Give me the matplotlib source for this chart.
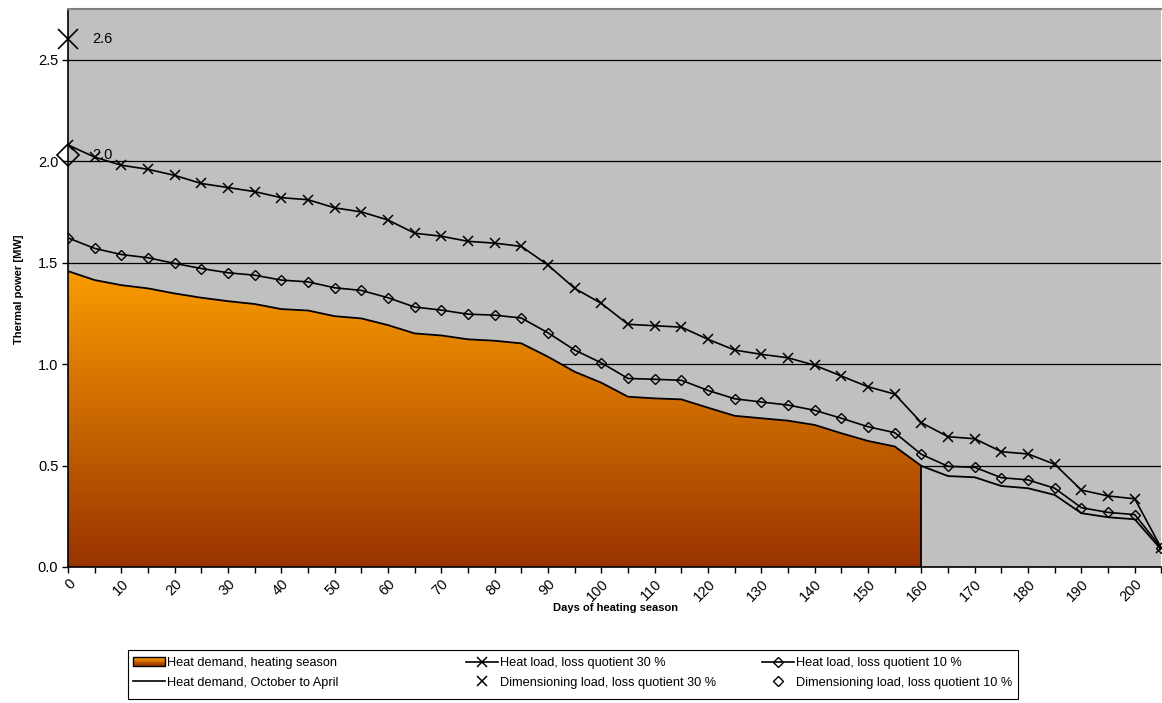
import numpy as np
import matplotlib
matplotlib.use('Agg')
import matplotlib.pyplot as plt
from matplotlib.colors import LinearSegmentedColormap
from matplotlib.patches import Rectangle, Patch
from matplotlib.lines import Line2D
from matplotlib.legend_handler import HandlerBase
from matplotlib.ticker import MultipleLocator, FormatStrFormatter

plt.rcParams['font.family'] = ['Liberation Sans', 'DejaVu Sans']
narrow = ['Liberation Sans Narrow', 'Liberation Sans']

''' Data '''
days = list(range(0, 206, 5))
heat_demand = [1.458, 1.414, 1.389, 1.373, 1.348, 1.327, 1.310, 1.296, 1.271, 1.264,
               1.236, 1.225, 1.192, 1.151, 1.141, 1.122, 1.115, 1.102, 1.036, 0.962,
               0.908, 0.839, 0.831, 0.826, 0.785, 0.745, 0.733, 0.721, 0.700, 0.659,
               0.621, 0.594, 0.498, 0.448, 0.442, 0.399, 0.388, 0.355, 0.265, 0.245,
               0.235, 0.085]
load_30 = [2.08, 2.02, 1.98, 1.96, 1.93, 1.89, 1.87, 1.85, 1.82, 1.81,
           1.77, 1.75, 1.71, 1.645, 1.63, 1.605, 1.596, 1.58, 1.488, 1.373,
           1.299, 1.196, 1.189, 1.182, 1.122, 1.069, 1.048, 1.031, 0.994, 0.941,
           0.888, 0.852, 0.711, 0.642, 0.632, 0.568, 0.557, 0.506, 0.379, 0.350,
           0.336, 0.092]
load_10 = [1.622, 1.570, 1.540, 1.524, 1.496, 1.471, 1.450, 1.438, 1.414, 1.405,
           1.376, 1.363, 1.327, 1.281, 1.266, 1.246, 1.241, 1.227, 1.154, 1.069,
           1.006, 0.929, 0.925, 0.920, 0.870, 0.829, 0.813, 0.798, 0.772, 0.733,
           0.691, 0.662, 0.555, 0.496, 0.491, 0.440, 0.429, 0.388, 0.292, 0.269,
           0.258, 0.094]
season_end = 160
dim_30 = 2.6
dim_10 = 2.03

orange = LinearSegmentedColormap.from_list('orange', ['#993300', '#FA9C00'])


class GradientHandler(HandlerBase):
    # legend key drawn as stacked stripes so it shows the same orange gradient
    def create_artists(self, legend, orig_handle, xdescent, ydescent, width, height, fontsize, trans):
        n = 10
        arts = []
        for k in range(n):
            r = Rectangle((-xdescent, -ydescent + height * k / n), width, height / n,
                          facecolor=orange(k / (n - 1)), edgecolor='none', transform=trans)
            arts.append(r)
        arts.append(Rectangle((-xdescent, -ydescent), width, height, fill=False,
                              edgecolor='black', lw=1, transform=trans))
        return arts


''' Plot '''
W, H = 1162, 703
fig = plt.figure(figsize=(W / 100, H / 100), dpi=100)
ax = fig.add_axes([0.0585, 0.1935, 0.9410, 0.7937])
ax.set_facecolor('#C0C0C0')

x = np.array(days)
hd = np.array(heat_demand)
mask = x <= season_end

# gradient filled area for the heating season
poly = ax.fill_between(x[mask], 0, hd[mask], color='none', zorder=2)
grad = np.linspace(0, 1, 256).reshape(-1, 1)
img = ax.imshow(grad, cmap=orange, origin='lower', aspect='auto',
                extent=[0, season_end, 0, hd[mask].max()], zorder=2)
img.set_clip_path(poly.get_paths()[0], transform=ax.transData)
ax.plot([season_end, season_end], [0, hd[x == season_end][0]], color='black', lw=1.3, zorder=3)

ax.plot(x, hd, color='black', lw=1.3, zorder=4)
ax.plot(x, load_30, color='black', lw=1.2, marker='x', ms=7, mew=1.1, zorder=5)
ax.plot(x, load_10, color='black', lw=1.2, marker='D', ms=5, mfc='none', mew=1.0, zorder=5)

ax.plot([0], [dim_30], ls='none', marker='x', ms=14, mew=1.2, color='black', clip_on=False, zorder=6)
ax.plot([0], [dim_10], ls='none', marker='D', ms=11, mfc='none', mew=1.2, color='black', clip_on=False, zorder=6)
ax.text(4.5, dim_30, '{:.1f}'.format(dim_30), va='center', ha='left', fontsize=10.5, zorder=7)
ax.text(4.5, dim_10, '{:.1f}'.format(dim_10), va='center', ha='left', fontsize=10.5, zorder=7)

# axes formatting
ax.set_xlim(0, 205)
ax.set_ylim(0, 2.75)
ax.xaxis.set_minor_locator(MultipleLocator(5))
ax.yaxis.set_major_locator(MultipleLocator(0.5))
ax.yaxis.set_major_formatter(FormatStrFormatter('%.1f'))
ax.set_xticks(range(0, 201, 10))
ax.set_xticklabels([str(d) for d in range(0, 201, 10)], rotation=45, ha='right',
                   rotation_mode='anchor', fontsize=10.5)
ax.tick_params(axis='x', which='both', direction='out', length=4, width=1, pad=3)
ax.tick_params(axis='y', direction='out', length=4, width=1, labelsize=10.5, pad=3)
ax.grid(axis='y', color='black', lw=0.9)
ax.set_axisbelow(True)

ax.spines['right'].set_visible(False)
ax.spines['top'].set_color('#808080')
ax.spines['top'].set_linewidth(1.5)
ax.spines['left'].set_linewidth(1.2)
ax.spines['bottom'].set_linewidth(1.2)

fig.text(0.53, 0.135, 'Days of heating season', ha='center', va='center', fontsize=8, weight='bold')
fig.text(0.016, 0.588, 'Thermal power [MW]', ha='center', va='center', rotation=90, fontsize=8, weight='bold')

# legend: three columns placed separately inside one frame
columns = [
    ([Patch(), Line2D([], [], color='black', lw=1.2)],
     ['Heat demand, heating season', 'Heat demand, October to April']),
    ([Line2D([], [], color='black', lw=1.2, marker='x', ms=7, mew=1.1),
      Line2D([], [], ls='none', color='black', marker='x', ms=7, mew=1.1)],
     ['Heat load, loss quotient 30 %', 'Dimensioning load, loss quotient 30 %']),
    ([Line2D([], [], color='black', lw=1.2, marker='D', ms=5, mfc='none'),
      Line2D([], [], ls='none', color='black', marker='D', ms=5, mfc='none')],
     ['Heat load, loss quotient 10 %', 'Dimensioning load, loss quotient 10 %']),
]
col_left = [133, 466, 762]
for (hs, ls), x0 in zip(columns, col_left):
    fig.legend(hs, ls, loc='upper left', bbox_to_anchor=(x0 / W, 1 - 657 / H),
               prop={'family': narrow, 'size': 9.2}, frameon=False,
               handlelength=2.5, handletextpad=0.15, labelspacing=0.6,
               borderpad=0, borderaxespad=0,
               handler_map={Patch: GradientHandler()})
fig.patches.append(Rectangle((128 / W, 1 - 699 / H), 890 / W, 49 / H, transform=fig.transFigure,
                             fill=False, edgecolor='black', lw=0.8))

plt.savefig('out.png', dpi=100)
